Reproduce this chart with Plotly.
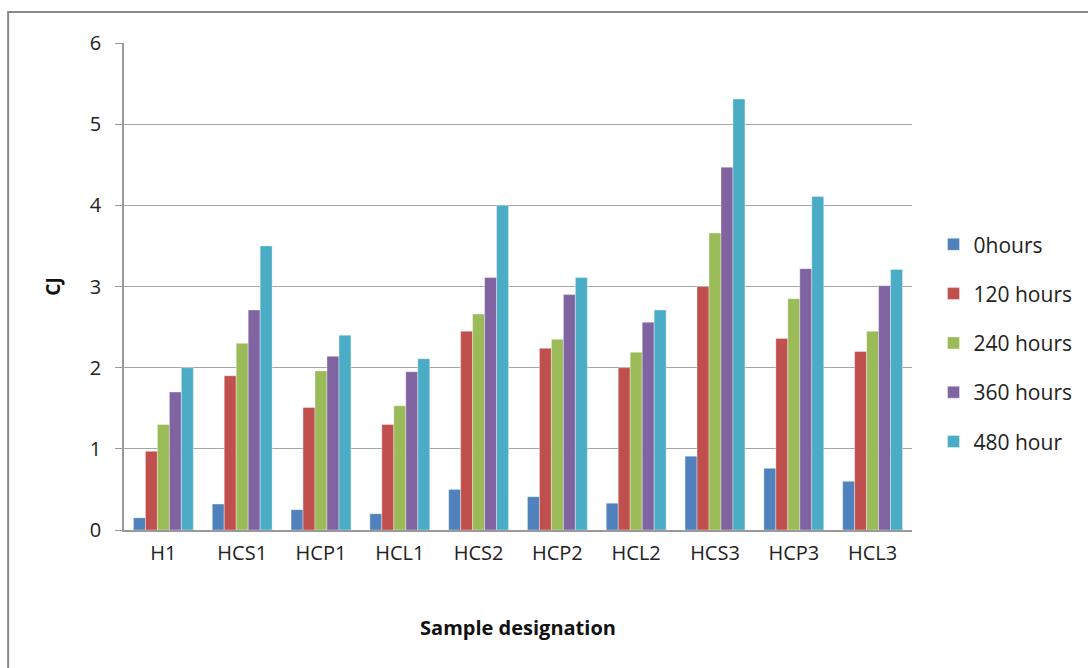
import plotly.graph_objects as go

categories = ["H1", "HCS1", "HCP1", "HCL1", "HCS2", "HCP2", "HCL2", "HCS3", "HCP3", "HCL3"]
series_names = ["0hours", "120 hours", "240 hours", "360 hours", "480 hour"]
v0 = [0.15, 0.32, 0.25, 0.20, 0.50, 0.41, 0.33, 0.91, 0.76, 0.60]
v120 = [0.97, 1.90, 1.51, 1.30, 2.45, 2.24, 2.00, 3.00, 2.36, 2.20]
v240 = [1.30, 2.30, 1.96, 1.53, 2.66, 2.35, 2.19, 3.66, 2.85, 2.45]
v360 = [1.70, 2.71, 2.14, 1.95, 3.11, 2.90, 2.56, 4.47, 3.22, 3.01]
v480 = [2.00, 3.50, 2.40, 2.11, 4.00, 3.11, 2.71, 5.31, 4.11, 3.21]
colors = ["#4F81BD", "#C0504D", "#9BBB59", "#8064A2", "#4BACC6"]

fig = go.Figure()
for i, (name, vals) in enumerate(zip(series_names, [v0, v120, v240, v360, v480])):
    fig.add_trace(go.Bar(
        x=categories, y=vals, name=name, legendgroup=f"g{i}",
        marker=dict(color=colors[i], line=dict(color="rgba(255,255,255,0.6)", width=0.6)),
    ))

font_family = "Open Sans, Liberation Sans, sans-serif"
fig.update_layout(
    width=1088, height=668,
    margin=dict(l=124, r=175, t=43, b=138),
    paper_bgcolor="white", plot_bgcolor="white",
    barmode="group", bargap=0.24, bargroupgap=0,
    font=dict(family=font_family, color="#222"),
    legend=dict(
        x=1.026, y=0.628, xanchor="left", yanchor="top",
        font=dict(size=21, color="#222"),
        traceorder="grouped", tracegroupgap=19,
        bgcolor="rgba(0,0,0,0)",
    ),
    xaxis=dict(
        showline=True, linecolor="#999", linewidth=1.5,
        tickfont=dict(size=20, color="#222"),
        title=dict(text="<b>Sample designation</b>", font=dict(size=20, color="#111"), standoff=56),
        ticks="", showgrid=False, ticklabelstandoff=4,
    ),
    yaxis=dict(
        range=[0, 6], dtick=1,
        showline=True, linecolor="#999", linewidth=1.5,
        showgrid=True, gridcolor="#A6A6A6", gridwidth=1.2,
        ticks="outside", ticklen=7, tickcolor="#999",
        tickfont=dict(size=20, color="#222"), ticklabelstandoff=10,
        title=dict(text="<b>CJ</b>", font=dict(size=19, color="#111"), standoff=24),
        zeroline=False,
    ),
    shapes=[dict(type="rect", xref="paper", yref="paper",
                 x0=(8 - 124) / 789, x1=(1200 - 124) / 789,
                 y0=(530 - 720) / 487, y1=(530 - 12) / 487,
                 line=dict(color="#888", width=2), layer="below")],
)

fig.write_html("out.html")
